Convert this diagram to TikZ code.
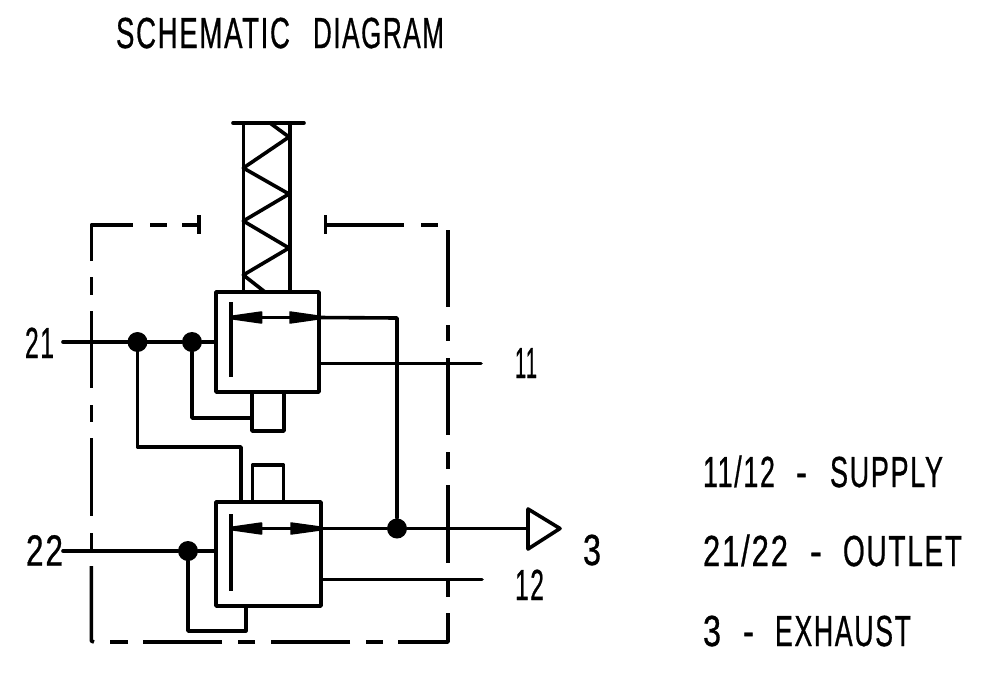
\documentclass[tikz,border=0pt]{standalone}
\usepackage{fontspec}
\usepackage{graphicx}
\setmainfont[FakeBold=0.8,LetterSpace=6]{Liberation Sans}
\usetikzlibrary{arrows.meta}
\newcommand\fw[2]{\resizebox{#1pt}{\height}{#2}}
\tikzset{
  wire/.style={line width=3.6pt,line cap=round,line join=round,black},
  block/.style={draw,wire,rectangle,inner sep=0pt,fill=none},
  junction/.style={circle,fill=black,inner sep=0pt,minimum size=20pt},
  lab/.style={anchor=base west,inner sep=0pt,outer sep=0pt,font=\fontsize{43.5pt}{44pt}\selectfont,text=black},
  head/.style={fill=black,draw=black,line width=1.5pt,line join=round},
}
\begin{document}
\begin{tikzpicture}[x=1pt,y=-1pt]
\useasboundingbox (0,0) rectangle (986,675);
% blocks
\node[block,minimum width=103pt,minimum height=100pt] (v1) at (267.5,342) {};
\node[block,minimum width=105pt,minimum height=104pt] (v2) at (268.5,554) {};
\node[block,minimum width=32pt,minimum height=39pt] (p1) at (268,411.5) {};
\node[block,minimum width=31pt,minimum height=37pt] (p2) at (268,483.5) {};
% junctions
\node[junction] (j1) at (137.5,342) {};
\node[junction] (j2) at (192,342) {};
\node[junction] (j3) at (188,551) {};
\node[junction] (j4) at (397,528.5) {};
% labels
\node[lab] (title) at (116,48) {\fw{174}{SCHEMATIC}\hspace{23pt}\fw{131}{DIAGRAM}};
\node[lab] (n21) at (25,358) {\fw{29}{21}};
\node[lab] (n22) at (26,565.5) {\fw{37}{22}};
\node[lab] (n11) at (515,378) {\fw{22}{11}};
\node[lab] (n12) at (515,600) {\fw{29}{12}};
\node[lab] (n3) at (583,565) {\fw{18}{3}};
\node[lab] (l1) at (703,487) {\fw{72}{11/12}\hspace{21pt}\fw{11}{-}\hspace{23pt}\fw{113}{SUPPLY}};
\node[lab] (l2) at (703,566) {\fw{85}{21/22}\hspace{22pt}\fw{12}{-}\hspace{21pt}\fw{119}{OUTLET}};
\node[lab] (l3) at (703,646) {\fw{18}{3}\hspace{22pt}\fw{11}{-}\hspace{21pt}\fw{136}{EXHAUST}};
% free ends
\coordinate (c21) at (63,342);
\coordinate (c22) at (63,551);
\coordinate (c11) at (481,363.5);
\coordinate (c12) at (482,579.5);
\coordinate (tri) at (528,528.5);
\coordinate (b1) at (397,318);
\coordinate (t1l) at (233.5,317.5);
\coordinate (t1r) at (318,317.5);
\coordinate (t2l) at (233.5,528.5);
\coordinate (t2r) at (320,528.5);
% connectors
\draw[wire] (c21) -- (j1) -- (j2) -- (j2 -| v1.west);
\draw[wire] (c22) -- (j3) -- (j3 -| v2.west);
\draw[wire] (j2) |- (p1.west |- 0,418);
\draw[wire] (j1) |- (241,447) -- (241,502);
\draw[wire] (j3) |- (245.7,631) -- (245.7,606);
\draw[wire] (v1.east |- c11) -- (c11);
\draw[wire] (v2.east |- c12) -- (c12);
\draw[wire] (t1r) -- (b1) -- (j4);
\draw[wire] (t2r) -- (j4) -- (tri);
\draw[wire] (528,509) -- (560,528.5) -- (528,549) -- cycle;
% valve internals
\draw[wire,line cap=butt] (230.7,302) -- (230.7,377);
\draw[wire,line cap=butt] (230.7,514) -- (230.7,591);
\draw[wire] (t1l) -- (t1r);
\draw[wire] (t2l) -- (t2r);
\filldraw[head] (t1l) ++(0,-1.5) -- ++(28,-4) -- ++(0,11) -- ++(-28,-4) -- cycle;
\filldraw[head] (t1r) ++(0,-1.5) -- ++(-28,-4) -- ++(0,11) -- ++(28,-4) -- cycle;
\filldraw[head] (t2l) ++(0,-1.5) -- ++(28,-4) -- ++(0,11) -- ++(-28,-4) -- cycle;
\filldraw[head] (t2r) ++(0,-1.5) -- ++(-29,-4) -- ++(0,11) -- ++(29,-4) -- cycle;
% spring
\draw[wire] (243.3,123) -- (243.3,292);
\draw[wire] (290,123) -- (290,292);
\draw[wire] (233,123) -- (304,123);
\draw[wire] (270,123) -- (289,137) -- (243.3,168) -- (289,194) -- (243.3,221) -- (289,248) -- (243.3,275) -- (265,292);
% dashed housing
\begin{scope}[wire,line cap=butt]
\draw (91.3,261) -- (91.3,225) -- (133,225);
\draw (150,225) -- (167,225);
\draw (182,225) -- (199,225);
\draw (199,215) -- (199,234);
\draw (325.5,215) -- (325.5,234);
\draw (325.5,225) -- (404,225);
\draw (421,225) -- (438,225);
\draw (448,230) -- (448,307);
\draw (448,325) -- (448,341);
\draw (448,358) -- (448,435);
\draw (448,452) -- (448,469);
\draw (448,485) -- (448,563);
\draw (448,581) -- (448,597);
\draw (448,613) -- (448,642) -- (398,642);
\draw (383,642) -- (366,642);
\draw (350,642) -- (271,642);
\draw (255,642) -- (238,642);
\draw (222,642) -- (143,642);
\draw (128,642) -- (110,642);
\draw (91.3,277) -- (91.3,295);
\draw (91.3,311) -- (91.3,388);
\draw (91.3,405) -- (91.3,422);
\draw (91.3,438) -- (91.3,516);
\draw (91.3,533) -- (91.3,550);
\draw (91.3,566) -- (91.3,641) -- (94,642);
\end{scope}
\end{tikzpicture}
\end{document}
